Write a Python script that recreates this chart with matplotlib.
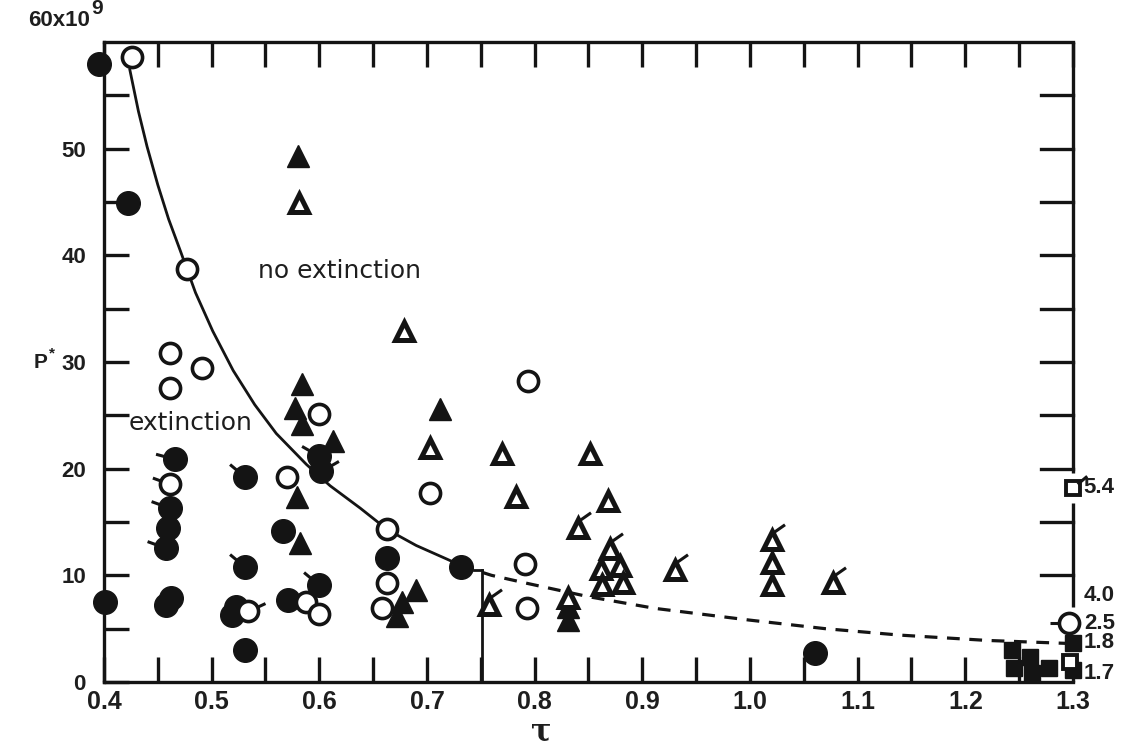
import numpy as np
import matplotlib
matplotlib.use("Agg")
import matplotlib.pyplot as plt

# ---------------- data ----------------
# filled circles
fc_x = [0.395, 0.422, 0.401, 0.466, 0.461, 0.459, 0.458, 0.462, 0.458, 0.531, 0.531,
        0.523, 0.519, 0.531, 0.566, 0.571, 0.600, 0.600, 0.602, 0.663, 0.732, 1.060]
fc_y = [57.9, 44.9, 7.5, 20.9, 16.3, 14.4, 12.6, 7.9, 7.2, 19.2, 10.8,
        7.0, 6.3, 3.0, 14.2, 7.7, 9.1, 21.2, 19.8, 11.6, 10.8, 2.7]
fc_flag = [None, None, None, 165, 160, None, 160, None, None, 140, 140,
           None, None, None, 'x', None, 140, 150, 30, None, None, None]
# open circles
oc_x = [0.426, 0.477, 0.461, 0.491, 0.461, 0.600, 0.461, 0.570, 0.534, 0.588, 0.600,
        0.663, 0.663, 0.658, 0.703, 0.794, 0.791, 0.793, 1.296]
oc_y = [58.6, 38.7, 30.8, 29.4, 27.6, 25.1, 18.6, 19.2, 6.7, 7.5, 6.4,
        14.3, 9.3, 6.9, 17.7, 28.2, 11.1, 6.9, 5.5]
oc_flag = [None, None, None, None, None, None, 160, None, 25, None, None,
           None, None, None, None, None, None, None, 180]
# filled triangles
ft_x = [0.580, 0.584, 0.577, 0.584, 0.613, 0.579, 0.582, 0.712, 0.690, 0.677, 0.672, 0.831, 0.831]
ft_y = [49.3, 27.9, 25.7, 24.2, 22.6, 17.3, 13.0, 25.6, 8.6, 7.5, 6.2, 7.0, 5.8]
# open triangles
ot_x = [0.581, 0.679, 0.703, 0.770, 0.851, 0.783, 0.868, 0.840, 0.870, 0.862, 0.879,
        0.863, 0.882, 0.758, 0.831, 0.930, 1.020, 1.020, 1.020, 1.077]
ot_y = [44.9, 32.9, 21.9, 21.4, 21.4, 17.3, 17.0, 14.4, 12.5, 10.6, 10.9,
        9.1, 9.3, 7.2, 7.9, 10.5, 13.3, 11.2, 9.1, 9.3]
ot_flag = [False, False, False, False, False, False, False, True, True, False, False,
           False, False, True, False, True, True, False, False, True]
# squares
fs_x = [1.243, 1.245, 1.260, 1.262, 1.278, 1.300, 1.300]
fs_y = [3.0, 1.3, 2.3, 0.8, 1.3, 3.7, 1.1]
os_x = [1.300, 1.297]
os_y = [18.2, 1.9]
os_flag = [True, False]

# boundary curve (solid part, then dashed part)
curve_x = [0.424, 0.432, 0.440, 0.450, 0.460, 0.471, 0.485, 0.501, 0.520, 0.540, 0.560,
           0.588, 0.610, 0.638, 0.663, 0.690, 0.719, 0.732]
curve_y = [57.4, 53.5, 50.2, 46.6, 43.4, 40.4, 36.5, 32.9, 29.2, 26.0, 23.3,
           20.4, 18.4, 16.3, 14.3, 12.8, 11.5, 10.9]
dash_x = [0.732, 0.760, 0.793, 0.850, 0.912, 1.000, 1.070, 1.139, 1.220, 1.300]
dash_y = [10.9, 10.0, 9.25, 8.0, 6.9, 5.8, 5.0, 4.4, 3.9, 3.6]

# annotations at right edge
right_labels = ["5.4", "4.0", "2.5", "1.8", "1.7"]
right_label_y = [18.2, 8.1, 5.5, 3.7, 0.8]

xticks_major = [0.4, 0.5, 0.6, 0.7, 0.8, 0.9, 1.0, 1.1, 1.2, 1.3]
xtick_labels = ["0.4", "0.5", "0.6", "0.7", "0.8", "0.9", "1.0", "1.1", "1.2", "1.3"]
yticks_major = [0, 10, 20, 30, 40, 50]
ytick_labels = ["0", "10", "20", "30", "40", "50"]

# ---------------- figure ----------------
plt.rcParams['font.family'] = ['Liberation Sans', 'DejaVu Sans']
fig = plt.figure(figsize=(11.29, 7.48), dpi=100)
ax = fig.add_axes([0.0921, 0.0882, 0.8583, 0.8557])
ax.set_xlim(0.4, 1.3)
ax.set_ylim(0, 60)

K = '#141414'
TC = '#1e1e1e'
LW = 2.4
for s in ['left', 'bottom', 'top']:
    ax.spines[s].set_linewidth(LW)
    ax.spines[s].set_color(K)
ax.spines['right'].set_visible(False)
# right border segments (broken where squares are labelled)
ax.plot([1.3, 1.3], [19.6, 60], color=K, lw=LW, solid_capstyle='butt', clip_on=False, zorder=3)
ax.plot([1.3, 1.3], [7.0, 16.8], color=K, lw=LW, solid_capstyle='butt', clip_on=False, zorder=3)
for yy in [55, 50, 45, 40, 35, 30, 25, 20, 15, 10]:
    ax.plot([1.27, 1.3], [yy, yy], color=K, lw=LW, clip_on=False, zorder=3)

ax.set_xticks(xticks_major)
ax.set_xticklabels(xtick_labels)
ax.set_xticks(np.arange(0.45, 1.3, 0.1), minor=True)
ax.set_yticks(yticks_major)
ax.set_yticklabels(ytick_labels)
ax.set_yticks(np.arange(5, 60, 10), minor=True)
ax.tick_params(axis='both', which='both', direction='in', length=18, width=LW, color=K,
               top=True, right=False)
ax.tick_params(axis='x', which='major', labelsize=18, pad=6)
ax.tick_params(axis='y', which='major', labelsize=16, pad=13)
for lab in ax.get_xticklabels():
    lab.set_fontfamily(['Liberation Sans Narrow', 'Liberation Sans'])
    lab.set_fontweight('bold')
    lab.set_color(TC)
for lab in ax.get_yticklabels():
    lab.set_fontweight('bold')
    lab.set_color(TC)

# curve
ax.plot(curve_x, curve_y, color=K, lw=2.0, zorder=2, solid_joinstyle='round')
ax.plot(dash_x, dash_y, color=K, lw=2.3, dashes=(4, 3), zorder=2)
# vertical marker line
ax.plot([0.751, 0.751], [0, 10.5], color=K, lw=2.0, zorder=2)
ax.plot([0.744, 0.751], [10.5, 10.5], color=K, lw=2.0, zorder=2)

MS_C = 17
ax.plot(fc_x, fc_y, 'o', ms=MS_C, mfc=K, mec=K, mew=1, ls='none', zorder=5, clip_on=False)
ax.plot(oc_x, oc_y, 'o', ms=MS_C - 2.5, mfc='white', mec=K, mew=2.6, ls='none', zorder=6, clip_on=False)
ax.plot(ft_x, ft_y, '^', ms=16, mfc=K, mec=K, mew=1, ls='none', zorder=5, clip_on=False)
ax.plot(ot_x, ot_y, '^', ms=12.5, mfc='white', mec=K, mew=3.6, ls='none', zorder=5, clip_on=False)
ax.plot(fs_x, fs_y, 's', ms=11, mfc=K, mec=K, mew=1, ls='none', zorder=5, clip_on=False)
ax.plot(os_x, os_y, 's', ms=9.5, mfc='white', mec=K, mew=2.8, ls='none', zorder=6, clip_on=False)


def flag(x, y, angle, r, L, both=False):
    t = np.deg2rad(angle)
    c, s = np.cos(t), np.sin(t)
    if both:
        verts = [(-(r + L * 0.6) * c, -(r + L * 0.6) * s), ((r + L * 0.6) * c, (r + L * 0.6) * s)]
    else:
        verts = [(r * c, r * s), ((r + L) * c, (r + L) * s)]
    m = 2 * np.max(np.abs(verts))
    ax.plot([x], [y], marker=verts, ms=m, mec=K, mew=2.2, ls='none', zorder=7, clip_on=False)


for x, y, f in zip(fc_x, fc_y, fc_flag):
    if f == 'x':
        flag(x, y, 35, 0, 13, both=True)
    elif f is not None:
        flag(x, y, f, 6.5, 8)
for x, y, f in zip(oc_x, oc_y, oc_flag):
    if f is not None:
        flag(x, y, f, 6.5, 7)
for x, y, f in zip(ot_x, ot_y, ot_flag):
    if f:
        # stroke from the apex going up and to the right
        t = np.deg2rad(35)
        verts = [(0, 5), (11 * np.cos(t), 5 + 11 * np.sin(t))]
        m = 2 * np.max(np.abs(verts))
        ax.plot([x], [y], marker=verts, ms=m, mec=K, mew=2.2, ls='none', zorder=7, clip_on=False)
for x, y, f in zip(os_x, os_y, os_flag):
    if f:
        t = np.deg2rad(40)
        verts = [(3, 3), (3 + 9 * np.cos(t), 3 + 9 * np.sin(t))]
        m = 2 * np.max(np.abs(verts))
        ax.plot([x], [y], marker=verts, ms=m, mec=K, mew=2.2, ls='none', zorder=7, clip_on=False)

# texts
ax.text(0.619, 38.5, "no extinction", fontsize=18, family='DejaVu Sans', ha='center', va='center', color=TC)
ax.text(0.48, 24.3, "extinction", fontsize=18, family='DejaVu Sans', ha='center', va='center', color=TC)
for lab, yy in zip(right_labels, right_label_y):
    ax.text(1.310, yy, lab, fontsize=16, fontweight='bold', ha='left', va='center', color=TC,
            clip_on=False)

fig.text(0.080, 0.972, "60x10", fontsize=16, fontweight='bold', ha='right', va='center', color=TC)
fig.text(0.081, 0.988, "9", fontsize=15, fontweight='bold', ha='left', va='center', color=TC)
fig.text(0.030, 0.516, "P", fontsize=15, fontweight='bold', ha='left', va='center', color=TC)
fig.text(0.043, 0.528, "*", fontsize=11, fontweight='bold', ha='left', va='center', color=TC)

fig.text(0.479, 0.022, "τ", fontsize=22, family='DejaVu Serif', fontweight='bold',
         ha='center', va='center', color=TC)

fig.savefig("out.png", dpi=100, facecolor='white')
